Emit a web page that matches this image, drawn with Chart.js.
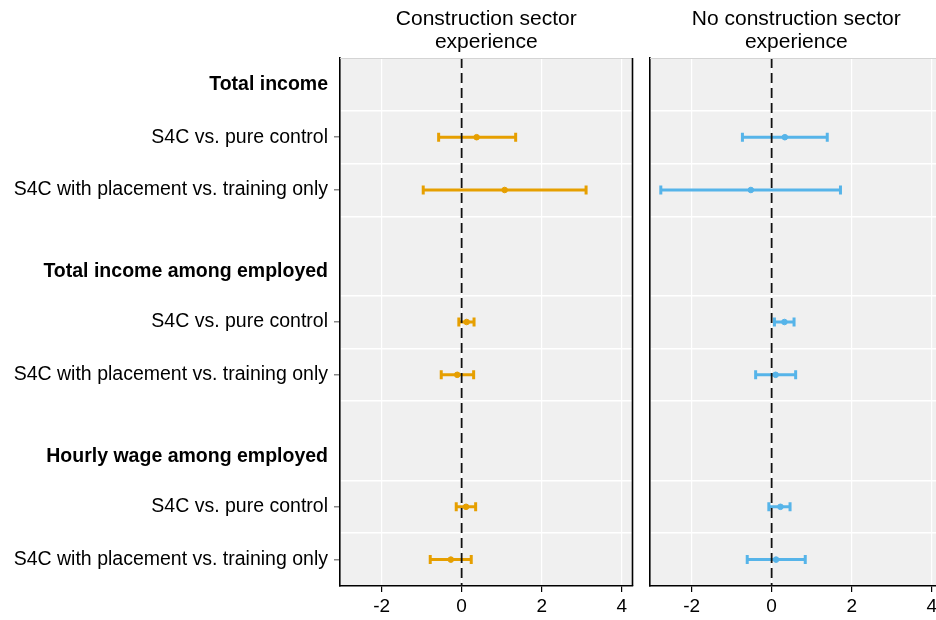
<!DOCTYPE html>
<html>
<head>
<meta charset="utf-8">
<script src="https://cdn.jsdelivr.net/npm/chart.js@4"></script>
<style>
  html, body { margin: 0; padding: 0; background: #fff; overflow: hidden; width: 936px; height: 620px; }
  #left { position: absolute; left: 0; top: 0; }
  #right { position: absolute; left: 640px; top: 0; }
</style>
</head>
<body>
<canvas id="left" width="640" height="620"></canvas>
<canvas id="right" width="310" height="620"></canvas>
<script>
// rows on the y axis (0 = top of panel, 10 = bottom)
const rowLabels = ['Total income', 'S4C vs. pure control', 'S4C with placement vs. training only',
                   'Total income among employed', 'S4C vs. pure control', 'S4C with placement vs. training only',
                   'Hourly wage among employed', 'S4C vs. pure control', 'S4C with placement vs. training only'];
const rowPos = [0.5, 1.5, 2.5, 4.05, 5.0, 6.0, 7.55, 8.5, 9.5];
const isHeader = [true, false, false, true, false, false, true, false, false];
const gridPos = [1, 2, 3, 4.5, 5.5, 6.5, 8, 9];

// estimates and 95% CIs, one per non-header row
const estRows = [1.5, 2.5, 5.0, 6.0, 8.5, 9.5];
const consEst  = [0.375, 1.075, 0.125, -0.11, 0.11, -0.27];
const consLow  = [-0.575, -0.96, -0.07, -0.51, -0.135, -0.785];
const consHigh = [1.35, 3.11, 0.31, 0.30, 0.35, 0.24];
const noConsEst  = [0.33, -0.52, 0.32, 0.10, 0.22, 0.11];
const noConsLow  = [-0.73, -2.77, 0.07, -0.40, -0.07, -0.61];
const noConsHigh = [1.39, 1.72, 0.56, 0.60, 0.46, 0.84];

const xTicks = [-2, 0, 2, 4];
const leftTitle = ['Construction sector', 'experience'];
const rightTitle = ['No construction sector', 'experience'];

Chart.defaults.font.family = '"Liberation Sans", Arial, sans-serif';
Chart.defaults.color = '#000';

const panelPlugin = {
    id: 'panel',
    beforeDraw(chart) {
        const a = chart.chartArea, c = chart.ctx;
        c.save();
        c.fillStyle = '#F0F0F0';
        c.fillRect(a.left, a.top, a.right - a.left, a.bottom - a.top);
        c.restore();
    },
    afterDraw(chart, args, opts) {
        const a = chart.chartArea, c = chart.ctx;
        c.save();
        // top edge light, right edge dark
        c.strokeStyle = '#d4d4d4';
        c.lineWidth = 1;
        c.beginPath(); c.moveTo(a.left, a.top + 0.5); c.lineTo(a.right, a.top + 0.5); c.stroke();
        c.strokeStyle = '#000';
        c.lineWidth = 1.6;
        c.beginPath(); c.moveTo(a.right, a.top); c.lineTo(a.right, a.bottom); c.stroke();
        // panel title
        c.fillStyle = '#000';
        c.font = '21px "Liberation Sans", Arial, sans-serif';
        c.textAlign = 'center';
        c.textBaseline = 'middle';
        const cx = (a.left + a.right) / 2;
        (opts.lines || []).forEach((t, i) => c.fillText(t, cx, 19 + i * 23));
        c.restore();
    }
};

function panelDatasets(est, low, high, color) {
    const ds = [{
        // dashed reference line at zero
        data: [{x: 0, y: 0}, {x: 0, y: 10}],
        showLine: true,
        borderColor: '#111',
        borderWidth: 1.8,
        borderDash: [10, 5],
        pointRadius: 0
    }];
    est.forEach((e, i) => {
        ds.push({
            data: [{x: e, y: estRows[i]}],
            pointStyle: 'circle',
            pointRadius: 2.8,
            backgroundColor: color,
            borderColor: color,
            borderWidth: 1
        });
        ds.push({
            data: [{x: low[i], y: estRows[i]}, {x: high[i], y: estRows[i]}],
            showLine: true,
            borderColor: color,
            borderWidth: 3,
            pointStyle: 'line',
            rotation: 90,
            pointRadius: 4.5,
            pointBorderWidth: 3,
            pointBorderColor: color
        });
    });
    return ds;
}

function makePanel(id, est, low, high, color, title, withLabels, yWidth) {
    const canvas = document.getElementById(id);
    const ctx = canvas.getContext('2d');
    return new Chart(ctx, {
        type: 'scatter',
        data: { datasets: panelDatasets(est, low, high, color) },
        options: {
            responsive: false,
            animation: false,
            layout: { padding: { top: 58, right: 7.3, left: 0, bottom: 0 } },
            plugins: {
                legend: { display: false },
                tooltip: { enabled: false },
                panel: { lines: title }
            },
            scales: {
                x: {
                    type: 'linear',
                    min: -3.04,
                    max: 4.27,
                    afterBuildTicks: (s) => { s.ticks = xTicks.map(v => ({value: v})); },
                    afterFit: (s) => { s.height = 34; },
                    grid: { color: '#fff', lineWidth: 1.2, tickColor: '#000', tickLength: 6, tickWidth: 1.2 },
                    border: { display: true, color: '#000', width: 1.6 },
                    ticks: { font: { size: 19 }, padding: 3, color: '#000' }
                },
                y: {
                    type: 'linear',
                    reverse: true,
                    min: 0,
                    max: 10,
                    afterBuildTicks: (s) => {
                        s.ticks = gridPos.concat(rowPos).map(v => ({value: v}));
                    },
                    afterFit: (s) => { s.width = yWidth; },
                    grid: {
                        color: (c) => gridPos.includes(c.tick.value) ? '#fff' : 'rgba(0,0,0,0)',
                        lineWidth: 1.5,
                        tickLength: 6,
                        tickColor: (c) => {
                            const k = rowPos.indexOf(c.tick.value);
                            return (withLabels && k >= 0 && !isHeader[k]) ? '#888' : 'rgba(0,0,0,0)';
                        }
                    },
                    border: { display: true, color: '#000', width: 1.6 },
                    ticks: {
                        display: withLabels,
                        autoSkip: false,
                        padding: 6,
                        color: '#000',
                        callback: (v) => {
                            const k = rowPos.indexOf(v);
                            return k >= 0 ? rowLabels[k] : '';
                        },
                        font: (c) => {
                            const k = c.tick ? rowPos.indexOf(c.tick.value) : -1;
                            return { size: 19.5, weight: (k >= 0 && isHeader[k]) ? 'bold' : 'normal' };
                        }
                    }
                }
            }
        },
        plugins: [panelPlugin]
    });
}

makePanel('left', consEst, consLow, consHigh, '#E69F00', leftTitle, true, 340);
makePanel('right', noConsEst, noConsLow, noConsHigh, '#56B4E9', rightTitle, false, 10);
</script>
</body>
</html>
